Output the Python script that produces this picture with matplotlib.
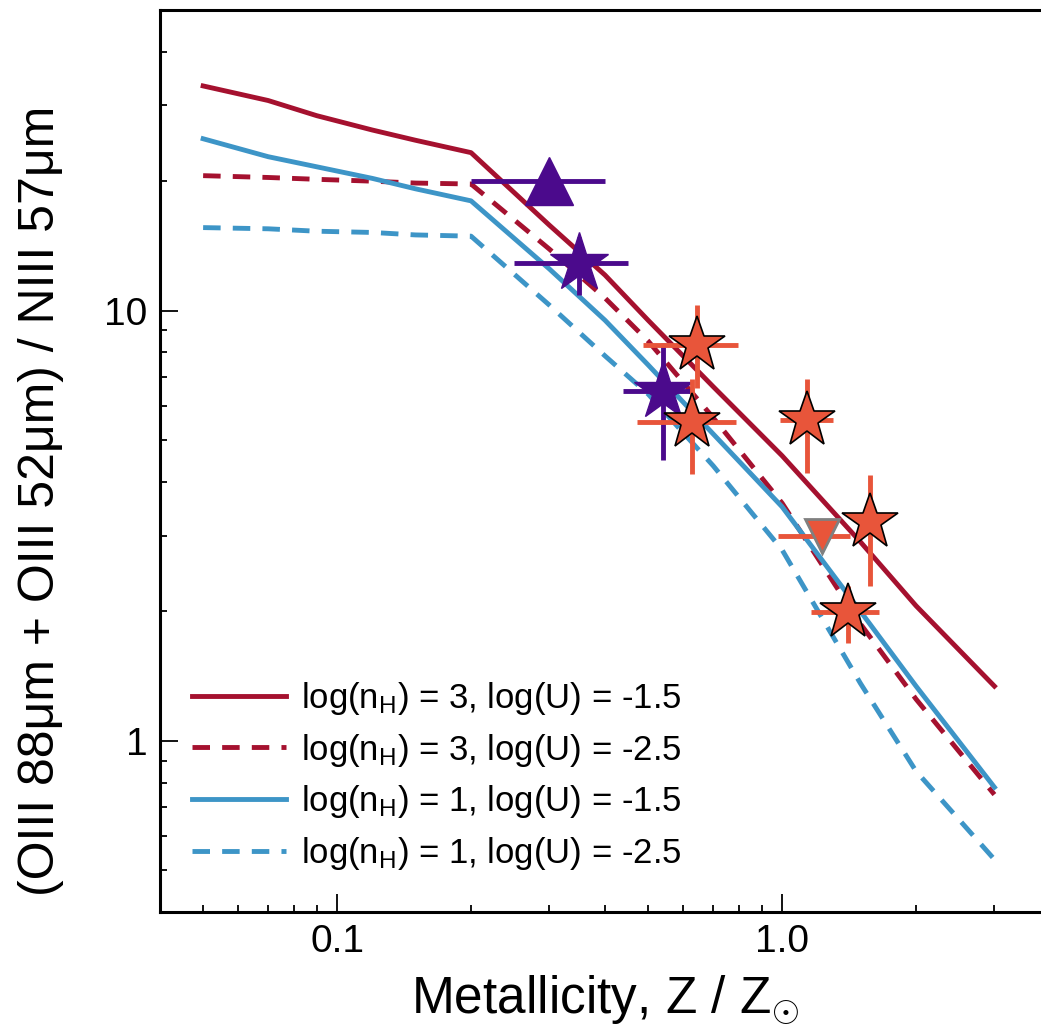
import matplotlib
matplotlib.use('Agg')
import matplotlib.pyplot as plt
from matplotlib.ticker import LogLocator, FixedLocator, FixedFormatter, NullFormatter

plt.rcParams['font.family'] = ['Liberation Sans', 'DejaVu Sans']
plt.rcParams['mathtext.fontset'] = 'custom'
plt.rcParams['mathtext.rm'] = 'Liberation Sans'
plt.rcParams['mathtext.it'] = 'Liberation Sans:italic'
plt.rcParams['mathtext.bf'] = 'Liberation Sans:bold'

# Model grid (metallicity) and line ratios
z_model = [0.05, 0.07, 0.09, 0.12, 0.15, 0.2, 0.3, 0.4, 0.5, 0.7, 1.0, 1.5, 2.0, 3.0]
n3_u15 = [33.3, 30.8, 28.4, 26.3, 24.9, 23.3, 15.8, 12.1, 9.5, 6.66, 4.6, 2.9, 2.06, 1.34]
n3_u25 = [20.6, 20.4, 20.2, 20.0, 19.8, 19.7, 13.9, 10.7, 8.5, 5.64, 3.57, 1.87, 1.25, 0.75]
n1_u15 = [25.1, 22.8, 21.6, 20.3, 19.2, 18.0, 12.5, 9.5, 7.48, 5.17, 3.5, 2.0, 1.34, 0.78]
n1_u25 = [15.6, 15.5, 15.3, 15.2, 15.0, 14.9, 10.3, 7.85, 6.4, 4.36, 2.78, 1.36, 0.85, 0.53]

labels = [r'log(n$_\mathrm{H}$) = 3, log(U) = -1.5',
          r'log(n$_\mathrm{H}$) = 3, log(U) = -2.5',
          r'log(n$_\mathrm{H}$) = 1, log(U) = -1.5',
          r'log(n$_\mathrm{H}$) = 1, log(U) = -2.5']

# Purple sources
pur_star_z = [0.35, 0.54]
pur_star_zlo = [0.10, 0.10]
pur_star_zhi = [0.10, 0.09]
pur_star_r = [12.9, 6.5]
pur_star_rlo = [2.0, 2.0]
pur_star_rhi = [1.9, 1.9]

pur_tri_z = [0.3]
pur_tri_zerr = [0.1]
pur_tri_r = [20.0]

# Orange sources
ora_star_z = [0.644, 0.628, 1.14, 1.58, 1.41]
ora_star_zlo = [0.156, 0.156, 0.15, 0.0, 0.25]
ora_star_zhi = [0.15, 0.16, 0.16, 0.0, 0.24]
ora_star_r = [8.3, 5.52, 5.58, 3.23, 1.99]
ora_star_rlo = [1.7, 1.35, 1.38, 0.94, 0.30]
ora_star_rhi = [2.0, 1.4, 1.37, 0.91, 0.30]

ora_tri_z = [1.23]
ora_tri_zlo = [0.25]
ora_tri_zhi = [0.19]
ora_tri_r = [3.0]

red = '#A5112F'
blue = '#3D95C7'
purple = '#4B0A8C'
orange = '#E8553A'

fig = plt.figure(figsize=(10.41, 10.25), dpi=100)
ax = fig.add_axes([160 / 1041, 113 / 1025, 890 / 1041, 902 / 1025])

lw = 3.5
dash = (3.6, 2.5)
ax.plot(z_model, n3_u15, color=red, lw=lw, label=labels[0])
ax.plot(z_model, n3_u25, color=red, lw=lw, dashes=dash, label=labels[1])
ax.plot(z_model, n1_u15, color=blue, lw=lw, label=labels[2])
ax.plot(z_model, n1_u25, color=blue, lw=lw, dashes=dash, label=labels[3])

ax.errorbar(pur_tri_z, pur_tri_r, xerr=[pur_tri_zerr, pur_tri_zerr], fmt='^',
            ms=34, color=purple, ecolor=purple, elinewidth=3.5, capsize=0, zorder=5)
ax.errorbar(pur_star_z, pur_star_r, xerr=[pur_star_zlo, pur_star_zhi],
            yerr=[pur_star_rlo, pur_star_rhi], fmt='*', ms=44, color=purple,
            ecolor=purple, elinewidth=3.5, capsize=0, zorder=5)
ax.errorbar(ora_tri_z, ora_tri_r, xerr=[ora_tri_zlo, ora_tri_zhi], fmt='v',
            ms=25, mfc=orange, mec='#808080', mew=2, ecolor=orange,
            elinewidth=3.5, capsize=0, zorder=6)
ax.errorbar(ora_star_z, ora_star_r, xerr=[ora_star_zlo, ora_star_zhi],
            yerr=[ora_star_rlo, ora_star_rhi], fmt='*', ms=42, mfc=orange,
            mec='black', mew=1.2, ecolor=orange, elinewidth=3.5, capsize=0, zorder=7)

ax.set_xscale('log')
ax.set_yscale('log')
ax.set_xlim(0.04, 4)
ax.set_ylim(0.4, 50)

ax.xaxis.set_major_locator(FixedLocator([0.1, 1.0]))
ax.xaxis.set_major_formatter(FixedFormatter(['0.1', '1.0']))
ax.xaxis.set_minor_locator(LogLocator(base=10, subs=range(2, 10)))
ax.xaxis.set_minor_formatter(NullFormatter())
ax.yaxis.set_major_locator(FixedLocator([1, 10]))
ax.yaxis.set_major_formatter(FixedFormatter(['1', '10']))
ax.yaxis.set_minor_locator(LogLocator(base=10, subs=range(2, 10)))
ax.yaxis.set_minor_formatter(NullFormatter())

ax.tick_params(which='both', direction='in', top=False, right=False, width=1.3)
ax.tick_params(which='major', length=13, labelsize=28, pad=9)
ax.tick_params(which='minor', length=5)
for s in ax.spines.values():
    s.set_linewidth(2.2)

ax.set_xlabel(r'Metallicity, Z / Z$_{\odot}$', fontsize=37)
ax.set_ylabel('(OIII 88μm + OIII 52μm) / NIII 57μm', fontsize=36)
ax.xaxis.set_label_coords(0.5, -0.068)
ax.yaxis.set_label_coords(-0.108, 0.456)

ax.legend(loc='center left', bbox_to_anchor=(0.036, 0.151), frameon=False,
          fontsize=25, handlelength=2.7, handletextpad=0.45, labelspacing=0.42,
          borderpad=0, borderaxespad=0)

fig.savefig('out.png', dpi=100)
